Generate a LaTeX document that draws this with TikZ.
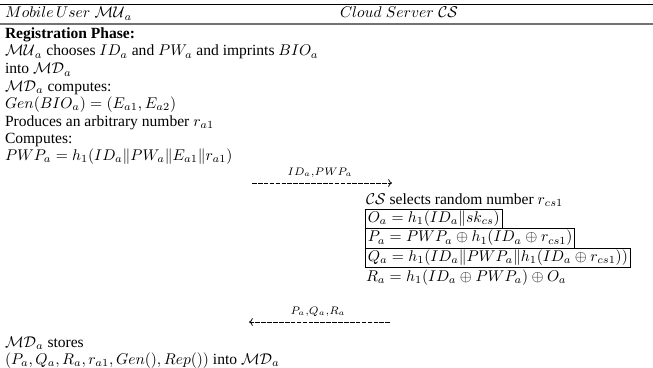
\documentclass[tikz,border=0pt]{standalone}
\usepackage{amsmath}
\usepackage{fontspec}
\setmainfont{Liberation Serif}
\usetikzlibrary{arrows.meta}
\tikzset{
  txt/.style={anchor=base west, inner sep=0pt, outer sep=0pt},
  cbox/.style={draw, line width=0.6pt, anchor=north west, inner xsep=1.5pt, inner ysep=0pt, minimum height=19.5*0.643pt, text depth=0.3em},
  msg/.style={line width=0.5pt, dash pattern=on 3pt off 0.8pt, -{To[length=2.4pt,width=5pt]}},
  lbl/.style={inner sep=0pt, anchor=base}
}
\begin{document}
\begin{tikzpicture}[x=0.643pt,y=-0.643pt]
\useasboundingbox (0,0) rectangle (653,367);
% rules
\draw[line width=0.5pt] (0,4) -- (653,4);
\draw[line width=1.2pt, black!55] (0,24) -- (653,24);
% headers
\node[txt] (hU) at (5,18) {$Mobile\,User\;\mathcal{MU}_a$};
\node[txt] (hS) at (340,18) {$Cloud\;Server\;\mathcal{CS}$};
% user side
\node[txt] (r1) at (5,39) {\textbf{Registration Phase:}};
\node[txt] (r2) at (5,56) {$\mathcal{MU}_a$ chooses $ID_a$ and $PW_a$ and imprints $BIO_a$};
\node[txt] (r3) at (5,74) {into $\mathcal{MD}_a$};
\node[txt] (r4) at (5,91) {$\mathcal{MD}_a$ computes:};
\node[txt] (r5) at (5,108) {$Gen(BIO_a)=(E_{a1},E_{a2})$};
\node[txt] (r6) at (5,126) {Produces an arbitrary number $r_{a1}$};
\node[txt] (r7) at (5,143) {Computes:};
\node[txt] (r8) at (5,160) {$PWP_a=h_1(ID_a\|PW_a\|E_{a1}\|r_{a1})$};
% message 1
\coordinate (m1s) at (252,183);
\coordinate (m1e) at (392,183);
\draw[msg] (m1s) -- (m1e);
\node[lbl] (m1l) at (320,175) {$\scriptstyle ID_a,PWP_a$};
% server side
\node[txt] (s1) at (366,204) {$\mathcal{CS}$ selects random number $r_{cs1}$};
\node[cbox] (bO) at (365,208.5) {$O_a=h_1(ID_a\|sk_{cs})$};
\node[cbox] (bP) at (365,228) {$P_a=PWP_a\oplus h_1(ID_a\oplus r_{cs1})$};
\node[cbox] (bQ) at (365,247.5) {$Q_a=h_1(ID_a\|PWP_a\|h_1(ID_a\oplus r_{cs1}))$};
\node[txt] (s5) at (366,281) {$R_a=h_1(ID_a\oplus PWP_a)\oplus O_a$};
% message 2
\coordinate (m2s) at (390,322);
\coordinate (m2e) at (249,322);
\draw[msg] (m2s) -- (m2e);
\node[lbl] (m2l) at (318,314) {$\scriptstyle P_a,Q_a,R_a$};
% final
\node[txt] (f1) at (5,347) {$\mathcal{MD}_a$ stores};
\node[txt] (f2) at (5,364) {$(P_a,Q_a,R_a,r_{a1},Gen(),Rep())$ into $\mathcal{MD}_a$};
\end{tikzpicture}
\end{document}
